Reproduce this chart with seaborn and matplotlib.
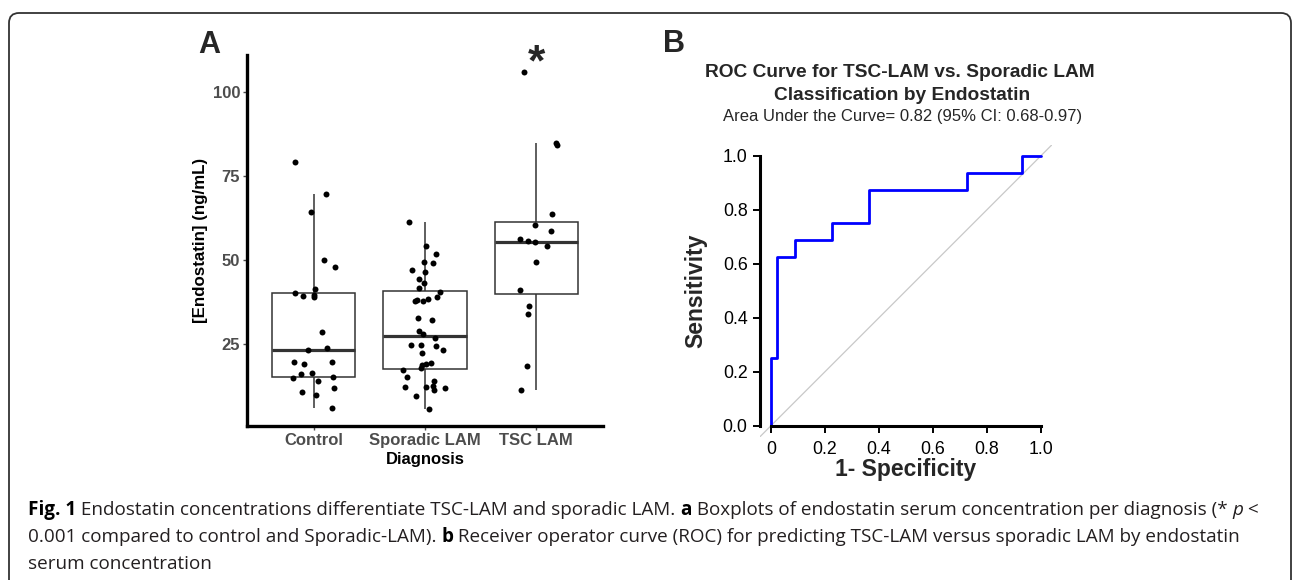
import numpy as np
import pandas as pd
import matplotlib
matplotlib.use("Agg")
import matplotlib.pyplot as plt
import matplotlib.transforms as mtransforms
from matplotlib.patches import FancyBboxPatch
import seaborn as sns

# ---------------- data ----------------
categories = ["Control", "Sporadic LAM", "TSC LAM"]
control_vals = [79.0, 69.5, 64.3, 50.0, 48.0, 41.2, 38.8, 40.1, 39.1, 39.5, 28.6, 23.8,
                23.0, 19.6, 19.0, 19.6, 16.0, 16.2, 15.1, 14.8, 13.9, 11.7, 10.6, 9.7, 6.0]
sporadic_vals = [61.3, 54.0, 51.8, 49.0, 49.4, 47.1, 46.3, 44.4, 43.2, 41.6, 40.3, 39.0,
                 37.9, 38.2, 37.6, 37.6, 32.8, 32.0, 28.7, 27.9, 26.7, 24.7, 23.1, 24.5,
                 24.4, 22.1, 18.6, 19.2, 18.9, 17.7, 17.2, 15.2, 14.0, 12.2, 11.1, 11.7,
                 12.4, 12.2, 9.4, 5.7]
tsc_vals = [105.9, 84.2, 84.9, 63.7, 60.3, 58.6, 56.3, 55.7, 55.2, 54.2, 49.4, 41.0,
            36.1, 34.0, 18.4, 11.3]
box_yticks = [25, 50, 75, 100]

roc_fpr = [0.0, 0.0, 1/44, 4/44, 10/44, 16/44, 32/44, 41/44, 1.0]
roc_tpr = [0.0, 0.25, 0.625, 0.6875, 0.75, 0.875, 0.9375, 1.0, 1.0]
roc_ticks = [0.0, 0.2, 0.4, 0.6, 0.8, 1.0]
roc_xticklabels = ["0", "0.2", "0.4", "0.6", "0.8", "1.0"]
roc_yticklabels = ["0.0", "0.2", "0.4", "0.6", "0.8", "1.0"]

caption_lines = [
    [("Fig. 1", "bold"), (" Endostatin concentrations differentiate TSC-LAM and sporadic LAM. ", "normal"),
     ("a", "bold"), (" Boxplots of endostatin serum concentration per diagnosis (* ", "normal"),
     ("p", "italic"), (" <", "normal")],
    [("0.001 compared to control and Sporadic-LAM). ", "normal"), ("b", "bold"),
     (" Receiver operator curve (ROC) for predicting TSC-LAM versus sporadic LAM by endostatin", "normal")],
    [("serum concentration", "normal")],
]

# ---------------- style ----------------
sns.set_theme(style="ticks")
plt.rcParams["font.family"] = ["Liberation Sans", "DejaVu Sans"]

W, H = 1293, 580
fig = plt.figure(figsize=(W / 100, H / 100), dpi=100)
fig.patch.set_facecolor("white")


def fx(px):
    return px / W


def fy(py):
    return 1 - py / H


# ---------------- panel A : boxplot ----------------
df = pd.DataFrame({
    "Diagnosis": [categories[0]] * len(control_vals) + [categories[1]] * len(sporadic_vals)
                 + [categories[2]] * len(tsc_vals),
    "Endostatin": control_vals + sporadic_vals + tsc_vals,
})

axA = fig.add_axes([fx(247), fy(426), fx(603) - fx(247), fy(55) - fy(426)])
sns.boxplot(data=df, x="Diagnosis", y="Endostatin", order=categories, ax=axA,
            width=0.75, color="white", linecolor="#333333", linewidth=1.1,
            showfliers=False, showcaps=False, medianprops={"linewidth": 2.3})
np.random.seed(7)
sns.stripplot(data=df, x="Diagnosis", y="Endostatin", order=categories, ax=axA,
              jitter=0.2, size=4.3, color="black", linewidth=0, zorder=3)

axA.set_xlim(-0.6, 2.6)
axA.set_ylim(0.5, 111)
axA.set_yticks(box_yticks)
axA.set_yticklabels([str(v) for v in box_yticks])
for s in ["top", "right"]:
    axA.spines[s].set_visible(False)
for s in ["left", "bottom"]:
    axA.spines[s].set_linewidth(2.4)
    axA.spines[s].set_color("black")
axA.tick_params(axis="both", length=3, width=1, color="#4d4d4d", labelcolor="#4d4d4d",
                labelsize=12, pad=2)
for lab in axA.get_xticklabels() + axA.get_yticklabels():
    lab.set_fontweight("bold")
axA.set_xlabel("Diagnosis", fontsize=12, fontweight="bold", color="black", labelpad=3)
axA.set_ylabel("[Endostatin] (ng/mL)", fontsize=12.2, fontweight="bold", color="black", labelpad=3)
axA.set_facecolor("white")

trA = mtransforms.blended_transform_factory(axA.transData, fig.transFigure)
axA.text(2, fy(75), "*", transform=trA, ha="center", va="baseline", fontsize=32,
         fontweight="bold", clip_on=False)
fig.text(fx(198), fy(53), "A", fontsize=22, fontweight="bold", ha="left", va="baseline")

# ---------------- panel B : ROC ----------------
axB = fig.add_axes([fx(760), fy(436.7), fx(1051.7) - fx(760), fy(145) - fy(436.7)])
axB.set_xlim(-0.04, 1.04)
axB.set_ylim(-0.04, 1.04)
axB.axline((0, 0), slope=1, color="#c8c8c8", lw=0.9, zorder=1)
sns.lineplot(x=roc_fpr, y=roc_tpr, ax=axB, color="#0000ff", lw=2.0, sort=False,
             estimator=None, drawstyle="steps-post", zorder=2)
for s in ["top", "right"]:
    axB.spines[s].set_visible(False)
axB.spines["left"].set_position(("axes", 0))
axB.spines["bottom"].set_position(("data", 0))
axB.spines["left"].set_bounds(0, 1)
axB.spines["bottom"].set_bounds(0, 1)
for s in ["left", "bottom"]:
    axB.spines[s].set_linewidth(2.2)
    axB.spines[s].set_color("black")
    axB.spines[s].set_zorder(3)
axB.set_xticks(roc_ticks)
axB.set_xticklabels(roc_xticklabels)
axB.set_yticks(roc_ticks)
axB.set_yticklabels(roc_yticklabels)
axB.tick_params(axis="both", length=5, width=1.4, color="black", labelcolor="black",
                labelsize=12.8)
axB.tick_params(axis="x", pad=6)
axB.tick_params(axis="y", pad=4)
axB.set_xlabel("1- Specificity", fontsize=16.5, fontweight="bold", labelpad=0)
axB.set_ylabel("Sensitivity", fontsize=16.5, fontweight="bold", labelpad=11)
axB.set_facecolor("none")

fig.text(fx(663), fy(52.3), "B", fontsize=22, fontweight="bold", ha="left", va="baseline")
fig.text(fx(900), fy(76.7), "ROC Curve for TSC-LAM vs. Sporadic LAM", fontsize=13.8,
         fontweight="bold", ha="center", va="baseline")
fig.text(fx(902), fy(100), "Classification by Endostatin", fontsize=13.8,
         fontweight="bold", ha="center", va="baseline")
fig.text(fx(903), fy(121.5), "Area Under the Curve= 0.82 (95% CI: 0.68-0.97)", fontsize=12,
         ha="center", va="baseline")

# ---------------- outer frame ----------------
frame = FancyBboxPatch((0.09, -0.3), 12.82, 5.67 + 0.3,
                       boxstyle="round,pad=0,rounding_size=0.1",
                       transform=fig.dpi_scale_trans, fill=False,
                       edgecolor="#333333", linewidth=1.3)
fig.add_artist(frame)

# ---------------- caption ----------------
renderer = fig.canvas.get_renderer()
cap_family = ["Open Sans", "DejaVu Sans"]
cap_color = "#231f20"


def style_kw(st):
    if st == "bold":
        return {"fontweight": "bold", "color": "black"}
    if st == "italic":
        return {"fontstyle": "italic", "color": cap_color}
    return {"color": cap_color}


def seg_width(s, st, fs):
    t1 = fig.text(0, 0, "x" + s + "x", fontsize=fs, family=cap_family, **style_kw(st))
    t2 = fig.text(0, 0, "xx", fontsize=fs, family=cap_family, **style_kw(st))
    w = t1.get_window_extent(renderer).width - t2.get_window_extent(renderer).width
    t1.remove()
    t2.remove()
    return w


base_fs = 12.5
w1 = sum(seg_width(s, st, base_fs) for s, st in caption_lines[0])
cap_fs = base_fs * (1262 - 28) / w1

baselines = [515, 542, 569]
for line, yb in zip(caption_lines, baselines):
    x = 28.0
    for s, st in line:
        fig.text(fx(x), fy(yb), s, fontsize=cap_fs, family=cap_family, ha="left",
                 va="baseline", **style_kw(st))
        x += seg_width(s, st, cap_fs)

fig.savefig("out.png", dpi=100, facecolor="white")
